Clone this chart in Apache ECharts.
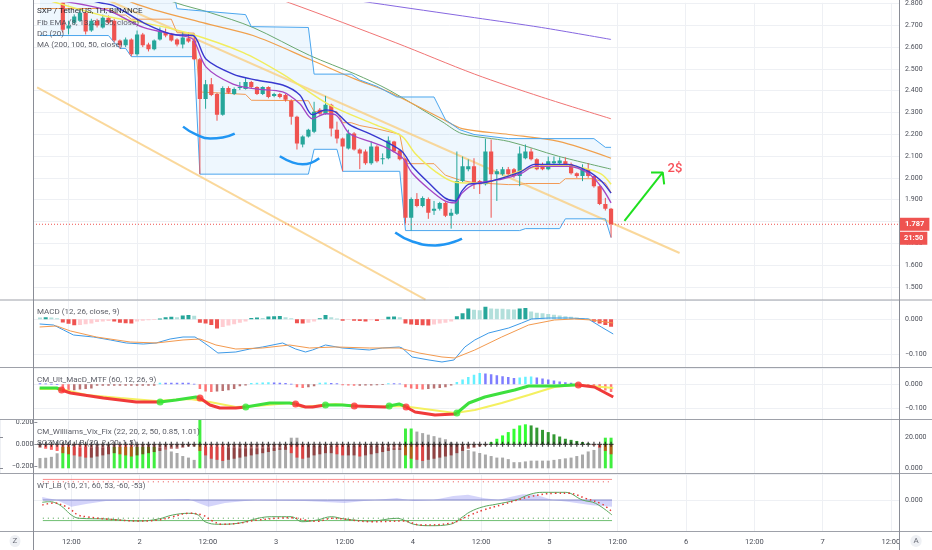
<!DOCTYPE html>
<html><head><meta charset="utf-8">
<script src="https://cdn.jsdelivr.net/npm/echarts@6/dist/echarts.min.js"></script>
<style>html,body{margin:0;padding:0;background:#fff}#c{width:932px;height:550px}#err{position:absolute;left:40px;top:60px;width:840px;font:11px monospace;color:#c00;white-space:pre-wrap;z-index:9}</style>
</head><body><div id="c"></div><div id="err"></div>
<script>
// ---------------- DATA ----------------
const firstHour = 7; // first candle: day 1, 07:00 (hour 0 = day 1 00:00), hourly candles
const opens = [2.88,2.86,2.87,2.85,2.84, 2.685,2.712,2.721,2.758,2.676, 2.721,2.690,2.735,2.721,2.630,
 2.608,2.635,2.567,2.658,2.612, 2.590,2.635,2.667,2.658,2.635, 2.612,2.640,2.630,2.544,2.362,
 2.430,2.385,2.290,2.412,2.385, 2.412,2.408,2.440,2.417,2.385, 2.417,2.376,2.385,2.380,2.353,
 2.280,2.153,2.190,2.212,2.312, 2.294,2.335,2.221,2.180,2.135, 2.203,2.130,2.121,2.067,2.144,
 2.085,2.090,2.167,2.126,2.085, 1.817,1.903,1.871,1.903,1.849, 1.858,1.885,1.826,1.835,1.985,
 2.040,2.053,1.985,1.971,2.121, 2.017,2.017,2.040,2.040,2.008, 2.090,2.121,2.085,2.062,2.040,
 2.067,2.067,2.076,2.062,2.021, 2.008,2.040,2.008,1.962,1.880, 1.858];
const closes = [2.86,2.87,2.85,2.84,2.680, 2.699,2.740,2.758,2.671,2.721, 2.699,2.735,2.712,2.630,2.608,
 2.635,2.567,2.658,2.608,2.590, 2.630,2.671,2.653,2.630,2.612, 2.644,2.626,2.544,2.362,2.430,
 2.380,2.290,2.412,2.390,2.408, 2.417,2.440,2.417,2.385,2.417, 2.371,2.385,2.371,2.358,2.280,
 2.158,2.190,2.221,2.303,2.294, 2.335,2.226,2.180,2.144,2.203, 2.130,2.112,2.067,2.144,2.076,
 2.090,2.171,2.121,2.085,1.817, 1.903,1.871,1.908,1.840,1.858, 1.885,1.826,1.840,1.985,2.053,
 2.053,1.976,1.971,2.121,2.017, 2.030,2.040,2.017,2.008,2.112, 2.121,2.085,2.040,2.040,2.076,
 2.076,2.080,2.053,2.021,2.008, 2.040,2.008,1.962,1.880,1.858, 1.787];
const lows = [2.84,2.83,2.82,2.81,2.667, 2.658,2.703,2.715,2.658,2.670, 2.690,2.685,2.705,2.621,2.594,
 2.600,2.558,2.560,2.600,2.580, 2.585,2.630,2.645,2.625,2.603, 2.594,2.620,2.540,2.017,2.317,
 2.375,2.262,2.285,2.385,2.380, 2.403,2.405,2.410,2.380,2.380, 2.365,2.370,2.365,2.350,2.244,
 2.130,2.140,2.185,2.205,2.290, 2.290,2.190,2.158,2.030,2.130, 2.125,2.040,2.060,2.060,2.070,
 2.062,2.085,2.115,2.080,1.790, 1.758,1.865,1.865,1.812,1.830, 1.850,1.820,1.767,1.830,1.980,
 2.030,1.949,1.926,1.965,1.817, 1.894,2.010,2.010,2.000,1.962, 2.085,2.080,2.035,2.035,2.035,
 2.060,2.060,2.050,2.015,2.000, 1.985,2.000,1.955,1.875,1.850, 1.726];
const highs = [2.90,2.89,2.89,2.87,2.86, 2.721,2.750,2.776,2.765,2.730, 2.730,2.749,2.745,2.730,2.635,
 2.644,2.640,2.676,2.665,2.620, 2.635,2.690,2.685,2.665,2.640, 2.667,2.667,2.644,2.550,2.449,
 2.458,2.390,2.420,2.420,2.415, 2.440,2.458,2.445,2.420,2.420, 2.420,2.390,2.390,2.385,2.360,
 2.285,2.195,2.225,2.349,2.320, 2.376,2.340,2.258,2.185,2.221, 2.210,2.135,2.130,2.167,2.150,
 2.112,2.190,2.170,2.130,2.090, 1.910,1.930,1.915,1.910,1.894, 1.890,1.890,1.858,2.121,2.098,
 2.085,2.090,1.990,2.180,2.176, 2.040,2.050,2.050,2.045,2.144, 2.153,2.135,2.090,2.070,2.098,
 2.098,2.094,2.094,2.070,2.025, 2.062,2.067,2.010,1.965,1.908, 1.862];
const lastPrice = 1.787;
const barCountdown = '21:50';

// main-panel indicator lines: [hour, price]
const ma200 = [[7,3.039],[44.3,2.885],[65.2,2.803],[83.1,2.735],[94.8,2.690],[107,2.635]];
const ma100 = [[7,3.21],[50.7,2.803],[69.2,2.621],[83.1,2.476],[94.8,2.371],[107,2.271]];
const ma50 = [[7,3.03],[30.8,2.803],[36.8,2.758],[44.3,2.690],[54.2,2.562],[62.2,2.476],[68.1,2.403],[77.4,2.258],[80.9,2.203],[89.1,2.167],[97.8,2.099],[107,2.040]];
const emaOrange = [[7,3.008],[23.3,2.803],[35.5,2.712],[44.3,2.653],[54.2,2.544],[62.2,2.453],[68.1,2.394],[77.4,2.271],[80.9,2.226],[89.1,2.199],[97.8,2.167],[107,2.09]];
const emaYellow = [[7,2.826],[18.1,2.744],[25.1,2.712],[32.6,2.667],[42.5,2.576],[49.5,2.476],[57.7,2.335],[65.7,2.244],[70.4,2.190],[72.7,2.112],[76.2,2.030],[79.7,1.980],[84.4,1.976],[87.9,1.999],[92.6,2.044],[97.1,2.058],[102.3,2.044],[105.3,2.017],[107,1.971]];
const emaBlue = [[6.9,2.871],[17.6,2.803],[19.9,2.790],[25.1,2.712],[30.3,2.658],[33.8,2.653],[36.1,2.544],[40.8,2.476],[44.8,2.449],[49.5,2.426],[52.5,2.380],[54.7,2.290],[57,2.312],[58.7,2.303],[61.2,2.244],[64.7,2.203],[67.5,2.167],[70.4,2.121],[72.2,2.053],[75.1,1.976],[77.9,1.908],[79.7,1.894],[80.9,1.940],[82.1,1.971],[84.4,1.976],[87.9,1.999],[91.3,2.030],[93.6,2.062],[99.5,2.062],[103,2.030],[105.3,1.985],[107,1.930]];
const emaPurple = [[6.9,2.826],[18.6,2.771],[25.1,2.690],[31.5,2.653],[33.8,2.635],[36.1,2.508],[40.8,2.430],[44.8,2.408],[49.5,2.394],[52.5,2.340],[54.7,2.271],[57,2.294],[58.7,2.290],[61.2,2.203],[64.7,2.167],[67.5,2.140],[70.4,2.094],[72.2,2.021],[75.1,1.949],[77.9,1.894],[79.7,1.885],[80.9,1.930],[83.1,1.971],[87.9,1.994],[91.3,2.021],[93.6,2.053],[99.5,2.053],[103,2.021],[105.3,1.958],[107,1.885]];
const dcUpper = [[7,2.90],[30,2.90],[31,2.776],[33,2.771],[43,2.749],[44,2.694],[54,2.690],[55,2.476],[61.5,2.476],[63,2.449],[66,2.42],[69.5,2.371],[76,2.371],[78,2.267],[80.5,2.221],[83,2.199],[89,2.180],[104,2.180],[106,2.140],[107,2.140]];
const dcLower = [[7,2.653],[19,2.653],[20,2.621],[21,2.594],[22,2.594],[23,2.556],[34,2.556],[35,2.017],[54,2.017],[55,2.131],[59,2.131],[60,2.030],[70,2.030],[71,1.758],[91,1.758],[92,1.767],[98,1.767],[99,1.812],[106,1.812],[107,1.726]];
const dcBasis = [[7,2.777],[19,2.777],[20,2.761],[21,2.747],[22,2.747],[23,2.728],[30,2.728],[31,2.666],[34,2.664],[35,2.394],[43,2.383],[44,2.356],[54,2.354],[55,2.304],[59,2.304],[60,2.253],[61.5,2.253],[63,2.240],[66,2.225],[70,2.20],[71,2.065],[76,2.065],[78,2.012],[80.5,1.99],[83,1.978],[89,1.969],[91,1.969],[92,1.974],[98,1.974],[99,1.996],[104,1.996],[106,1.976],[107,1.933]];
// drawings
const channelUpper = [[6.5,2.959],[119,1.655]];
const channelLower = [[6.5,2.415],[74.5,1.441]];
const arc1 = [[32.05,2.235],[34.3,2.199],[36.8,2.180],[39.0,2.185],[41.1,2.203]];
const arc2 = [[49.0,2.099],[51.2,2.071],[53.0,2.062],[55.9,2.090]];
const arc3 = [[69.2,1.749],[72.2,1.708],[76.2,1.690],[80.9,1.721]];
const arrowShaft = [[109.35,1.803],[116.05,2.025]];
const arrowHead = [[114.0,2.025],[116.05,2.025],[116.3,1.970]];
const targetNote = {hour:116.1, price:2.042, text:'2$'};

// MACD (12, 26, close, 9)
const macdHist = [0.005,0.006,0.005,0.003,-0.0095, -0.013,-0.017,-0.016,-0.014,-0.012, -0.008,-0.006,-0.005,-0.006,-0.010,
 -0.011,-0.012,-0.006,-0.004,-0.003, -0.001,0.002,0.006,0.007,0.006, 0.011,0.012,0.010,-0.010,-0.012,
 -0.016,-0.026,-0.022,-0.018,-0.014, -0.010,-0.006,0.004,0.005,0.004, 0.008,0.009,0.0095,0.006,0.003,
 -0.011,-0.012,-0.010,-0.006,0.003, 0.012,0.006,0.002,-0.004,-0.002, -0.004,-0.005,-0.006,-0.003,-0.005,
 -0.002,0.007,0.008,0.006,-0.012, -0.015,-0.016,-0.017,-0.018,-0.015, -0.012,-0.010,-0.006,0.009,0.017,
 0.031,0.027,0.026,0.036,0.031, 0.030,0.030,0.029,0.028,0.031, 0.032,0.022,0.019,0.017,0.015,
 0.013,0.011,0.009,0.007,0.005, 0.004,0.002,-0.007,-0.012,-0.016, -0.021];
const macdLine = [[6.94,-0.0134],[9.38,-0.0163],[11.13,-0.0306],[12.87,-0.0449],[16.36,-0.0506],[19.32,-0.0591],[22.11,-0.0677],[25.08,-0.0706],[27.34,-0.0677],[29.79,-0.0563],[32.05,-0.0506],[34.14,-0.0506],[35.02,-0.0591],[36.76,-0.0791],[38.16,-0.0963],[41.29,-0.0934],[43.73,-0.0849],[46.0,-0.0791],[49.49,-0.0677],[51.76,-0.0849],[53.5,-0.0934],[54.72,-0.0877],[56.99,-0.0734],[59.95,-0.082],[64.66,-0.0877],[66.93,-0.082],[69.89,-0.0791],[70.41,-0.082],[72.16,-0.1077],[75.12,-0.1163],[77.39,-0.122],[79.48,-0.1163],[81.4,-0.0791],[83.14,-0.0591],[85.58,-0.0391],[89.07,-0.0249],[91.34,-0.0106],[93.08,0.0009],[96.05,0.0037],[99.53,0.0037],[103.02,0.0009],[105.29,-0.022],[107.38,-0.042]];
const macdSignal = [[6.94,-0.022],[9.91,-0.0191],[12.35,-0.0334],[16.88,-0.0506],[22.81,-0.0649],[27.34,-0.0677],[32.05,-0.0591],[35.02,-0.0563],[37.81,-0.0734],[41.29,-0.0849],[46.0,-0.082],[50.71,-0.0734],[54.2,-0.082],[58.73,-0.0791],[64.66,-0.082],[69.89,-0.082],[73.38,-0.0963],[77.39,-0.1077],[79.66,-0.1106],[83.14,-0.0877],[87.85,-0.0506],[92.56,-0.0163],[97.09,-0.002],[100.58,0.0009],[103.54,-0.002],[107.38,-0.0106]];

// CM_Ult_MacD_MTF (60, 12, 26, 9)
const cmHist = [0.004,0.003,0.002,0.001,-0.02, -0.025,-0.025,-0.022,-0.02,-0.018, -0.006,-0.006,-0.006,-0.006,-0.006,
 -0.006,-0.006,-0.006,-0.006,-0.006, -0.006,0.006,0.006,0.006,0.006, 0.006,0.006,0.002,-0.02,-0.03,
 -0.032,-0.03,-0.028,-0.025,-0.02, -0.008,-0.005,0.005,0.006,0.007, 0.008,0.007,0.006,0.005,0.002,
 -0.012,-0.015,-0.012,-0.008,0.006, 0.007,0.005,0.004,-0.004,-0.005, -0.006,-0.006,-0.005,-0.005,-0.004,
 -0.003,0.004,0.004,0.003,-0.012, -0.018,-0.02,-0.022,-0.02,-0.018, -0.015,-0.012,-0.005,0.01,0.02,
 0.03,0.04,0.047,0.045,0.042, 0.038,0.034,0.03,0.026,0.028, 0.031,0.032,0.028,0.024,0.02,
 0.016,0.012,0.009,0.006,0.003, -0.006,-0.01,-0.015,-0.02,-0.026, -0.032];
const cmMacd = [[6.94,-0.0154],[9.91,-0.0154],[10.78,-0.0238],[12.35,-0.0363],[18.1,-0.0571],[23.86,-0.0738],[27.34,-0.0738],[28.04,-0.0738],[30.83,-0.0654],[34.32,-0.0529],[35.02,-0.0571],[36.76,-0.0863],[38.5,-0.0988],[41.29,-0.0988],[43.04,-0.0946],[47.22,-0.0779],[50.71,-0.0779],[51.76,-0.0821],[53.5,-0.0946],[54.72,-0.0946],[56.99,-0.0863],[59.95,-0.0863],[62.04,-0.0904],[67.45,-0.0946],[68.15,-0.0904],[69.89,-0.0821],[71.11,-0.0946],[72.68,-0.1154],[76.17,-0.1279],[79.66,-0.1238],[80.0,-0.1196],[82.1,-0.0779],[84.89,-0.0529],[87.85,-0.0363],[90.12,-0.0238],[92.56,-0.0071],[97.09,-0.0071],[100.58,-0.0029],[101.28,-0.0029],[104.07,-0.0113],[107.38,-0.0529]];
const cmSignal = [[6.94,-0.0196],[10.6,-0.0196],[15.14,-0.0446],[21.07,-0.0571],[27.34,-0.0696],[29.79,-0.0654],[33.27,-0.0613],[36.76,-0.0738],[41.29,-0.0946],[44.78,-0.0904],[50.71,-0.0779],[52.98,-0.0946],[58.73,-0.0821],[64.66,-0.0946],[70.41,-0.0904],[79.66,-0.1196],[83.14,-0.1071],[87.85,-0.0779],[92.56,-0.0446],[97.09,-0.0113],[100.58,-0.0029],[103.54,-0.0071],[107.38,-0.0154]];
const cmCrossHours = [10.78,28.04,35.02,43.04,51.76,56.99,62.04,68.15,71.11,80.0,101.28];
const cmCrossValues = [-0.0238,-0.0738,-0.0571,-0.0946,-0.0821,-0.0863,-0.0904,-0.0904,-0.0946,-0.1196,-0.0029];
const cmCrossUp = [0,1,0,1,0,1,0,1,0,1,0];

// CM_Williams_Vix_Fix (right scale) and SQZMOM_LB (left scale)
const vixFix = [6.7,6.9,7.5,9.8,14, 14,14,13.5,14,13.5, 14,13.5,14,14,14, 14,14,14,14,14, 14,13.3,12,11,10,
 8,7,5.5,33,14, 14,14,14,13.5,13.5, 13,13,13,13,13, 13.5,13.5,13,14,20, 20,15,15,14.5,14.5,
 14,14.5,14.5,15,14.5, 14.5,15,14.5,14.5,14.5, 14,13.5,13,13,26, 26,24,23,22,21, 20,19,17,16,14,
 12,11,10,9,8, 7,7,6,4,4, 4.5,5,5,5,5, 5.5,6,6.5,7,8, 9,11,12,15,20, 20];
const vixLimeHours = [11,12,20,21,22,23,24,25,26,27,35,71,72,106,107];
const sqzMom = [-0.03,-0.04,-0.05,-0.06,-0.08, -0.09,-0.10,-0.11,-0.12,-0.12, -0.11,-0.10,-0.09,-0.08,-0.09,
 -0.10,-0.11,-0.10,-0.09,-0.08, -0.07,-0.06,-0.05,-0.04,-0.04, -0.03,-0.02,-0.02,-0.06,-0.10,
 -0.13,-0.14,-0.15,-0.14,-0.13, -0.12,-0.11,-0.10,-0.09,-0.08, -0.07,-0.06,-0.05,-0.05,-0.08,
 -0.12,-0.13,-0.12,-0.10,-0.09, -0.08,-0.08,-0.09,-0.10,-0.10, -0.10,-0.11,-0.10,-0.09,-0.08,
 -0.07,-0.06,-0.05,-0.05,-0.10, -0.13,-0.14,-0.15,-0.14,-0.13, -0.12,-0.11,-0.10,-0.08,-0.06,
 -0.04,-0.03,-0.02,-0.01,0.02, 0.05,0.08,0.11,0.14,0.17, 0.18,0.17,0.15,0.13,0.11,
 0.09,0.07,0.05,0.04,0.03, 0.02,0.01,-0.01,-0.03,-0.06, -0.09];

// WT_LB (10, 21, 60, 53, -60, -53)
const wt1 = [[6.9,-6.7],[8.2,-5],[9.4,-9.6],[10.6,-22.4],[12,-43.7],[13.4,-53.3],[18.1,-55.4],[23.9,-61.2],[27.3,-55.4],[29.8,-43.7],[32.6,-38.8],[34.3,-43.7],[35.5,-63.3],[37.8,-70.8],[41.3,-67.9],[44.8,-53.3],[47.2,-48.7],[50.7,-48.7],[52.5,-63.3],[55.2,-58.3],[57.7,-48.7],[60,-55.4],[64.7,-61.2],[69.2,-53.3],[70.4,-58.3],[72.2,-70.8],[75.1,-74.9],[78.6,-70.8],[80.4,-53.3],[82.1,-34.1],[84.4,-19.5],[86.6,-12.5],[90.1,0],[92.6,16.6],[94.8,22.4],[98.8,22.4],[101.8,0],[104.1,-9.6],[107,-43.7]];
const wt2 = [[6.9,-14.6],[8.9,-8.7],[11.1,-19.5],[12,-29.2],[13.2,-43.7],[14.6,-48.7],[18.1,-55.4],[23.9,-61.2],[27.3,-58.3],[29.8,-48.7],[32.6,-38.8],[35,-43.7],[36.8,-61.2],[38.5,-70.8],[41.3,-67.9],[44.8,-58.3],[50.7,-51.6],[53,-58.3],[55.2,-62.1],[57.7,-53.3],[64.7,-63.3],[70.4,-61.2],[73.4,-72.9],[78.6,-67.9],[82.1,-43.7],[84.4,-29.2],[87.9,-12.5],[92.6,9.6],[97.1,19.5],[99.5,19.5],[102.3,5],[105.3,-12.5],[107,-34.1]];
const wtDiff = [[6.9,8.7],[9.4,0],[12,-20],[14.6,-12],[18.1,-3],[26.8,0],[32.6,3],[34.3,-9],[36.1,-20],[39,-9],[44.3,0],[53,-3],[56.5,-6],[60,-9],[63.4,-3],[69.2,6],[72.2,-3],[75.6,0],[79.1,12],[81.7,15],[84.4,6],[87,0],[89.1,9],[91.3,17],[93.6,15],[96.6,0],[99.5,-6],[103.5,-15],[107,-20]];
const wtLevels = [60, 53, -60, -53];

// ---------------- CHART ----------------
try {
const hours = opens.map((_, i) => firstHour + i);
const lastHour = hours[hours.length - 1];
const FONT = 'Roboto, sans-serif';
const AX = '#4a4d57';
// time axis: hour 0 (day 1 00:00) .. right edge; 12-hour label interval, min is a multiple of it
const X0 = 0, X1 = 157.42, XI = 12;
const PX_PER_H = 5.735;
const gridLeft = 65 - 12 * PX_PER_H;          // where hour 0 falls (left of the visible frame)
const frameLeft = 33.5;
const grids = [
  {left:gridLeft, right:33, top:0, height:300},
  {left:gridLeft, right:33, top:300.5, height:66.5},
  {left:gridLeft, right:33, top:368, height:51.5},
  {left:gridLeft, right:33, top:420, height:53},
  {left:gridLeft, right:33, top:474, height:57.5}
];
const timeFmt = v => (Math.abs(v % 12) > 1e-6 || v === 0) ? '' : (v % 24 === 0 ? String(v / 24 + 1) : '12:00');
const numFmt = v => (v < -1e-9 ? '\u2212' : '') + Math.abs(v).toFixed(3);

const xAxes = grids.map((g, i) => ({
  gridIndex:i, type:'value', min:X0, max:X1, interval:XI,
  axisLine:{show:false}, axisTick:{show:false},
  splitLine:{show:true, lineStyle:{color:'#eef0f4', width:1}},
  axisLabel:{show:i === 4, formatter:timeFmt, color:AX, fontSize:7.5, fontFamily:FONT, margin:7, showMaxLabel:false}
}));
function yAx(grid, min, max, split, pos, showSplit, extra) {
  return Object.assign({
    gridIndex:grid, type:'value', position:pos, min, max, splitNumber:split,
    axisLine:{show:false},
    axisTick:{show:true, length:3, lineStyle:{color:'#8a8d96'}},
    axisLabel:{formatter:numFmt, color:AX, fontSize:7, fontFamily:FONT, margin:pos === 'left' ? 4 : 6,
      showMinLabel:false, showMaxLabel:false},
    splitLine:{show:showSplit, lineStyle:{color:'#eef0f4', width:1}}
  }, extra || {});
}
const yAxes = [
  yAx(0, 1.4395, 2.8032, 13, 'right', true),
  yAx(1, -0.1363, 0.0537, 2, 'right', true),
  yAx(2, -0.1467, 0.0679, 2, 'right', true),
  yAx(3, -3.07, 31.57, 2, 'right', false),
  yAx(3, -0.2586, 0.2189, 2, 'left', false, {offset: gridLeft - frameLeft}),
  yAx(4, -91.8, 75.8, 2, 'right', true)
];

const series = [];
function ln(data, color, width, grid, yIdx, extra) {
  const s = Object.assign({type:'line', data, xAxisIndex:grid, yAxisIndex:yIdx, showSymbol:false, symbol:'none',
    lineStyle:{color, width}, itemStyle:{color}, silent:true, z:2}, extra || {});
  series.push(s);
  return series.length - 1;
}
// column marks drawn through the axes' scales
function columns(grid, yIdx, values, colors, width, z) {
  series.push({type:'custom', xAxisIndex:grid, yAxisIndex:yIdx, silent:true, z:z || 2, clip:true,
    data:hours.map((h, i) => [h, values[i]]), encode:{x:0, y:1},
    renderItem:(params, api) => {
      const x = api.value(0), v = api.value(1);
      const p0 = api.coord([x, 0]), p1 = api.coord([x, v]);
      return {type:'rect', shape:{x:p0[0] - width / 2, y:Math.min(p0[1], p1[1]), width, height:Math.max(0.8, Math.abs(p1[1] - p0[1]))},
        style:{fill:colors[params.dataIndex]}};
    }});
}
// Donchian fill
series.push({
  type:'custom', xAxisIndex:0, yAxisIndex:0, silent:true, z:1,
  data:[[dcUpper[0][0], dcUpper[0][1]]],
  renderItem:(params, api) => {
    const pts = dcUpper.map(p => api.coord(p)).concat(dcLower.slice().reverse().map(p => api.coord(p)));
    return {type:'polygon', shape:{points:pts}, style:{fill:'rgba(33,150,243,0.075)'}};
  }
});
ln(channelUpper, 'rgba(249,206,130,0.8)', 2, 0, 0);
ln(channelLower, 'rgba(249,206,130,0.8)', 2, 0, 0);
ln(ma200, '#8667e0', 1, 0, 0, {smooth:0.3});
ln(ma100, '#f07474', 1, 0, 0, {smooth:0.3});
ln(ma50, '#6aa86f', 1, 0, 0, {smooth:0.3});
ln(emaOrange, '#f0a04c', 1.2, 0, 0, {smooth:0.3});
ln(dcUpper, '#4ba6ee', 1, 0, 0);
ln(dcLower, '#4ba6ee', 1, 0, 0);
ln(dcBasis, '#f29a55', 1, 0, 0);
// candles
const UP = '#26a69a', DOWN = '#ef5350';
series.push({
  type:'custom', xAxisIndex:0, yAxisIndex:0, silent:true, z:3, clip:true,
  data:hours.map((h, i) => [h, opens[i], closes[i], lows[i], highs[i]]),
  encode:{x:0, y:[1,2,3,4]},
  renderItem:(params, api) => {
    const x = api.value(0), o = api.value(1), c = api.value(2), l = api.value(3), hi = api.value(4);
    const po = api.coord([x, o]), pc = api.coord([x, c]), pl = api.coord([x, l]), ph = api.coord([x, hi]);
    const col = c >= o ? UP : DOWN, w = 4.2;
    return {type:'group', children:[
      {type:'line', shape:{x1:po[0], y1:ph[1], x2:po[0], y2:pl[1]}, style:{stroke:col, lineWidth:1}},
      {type:'rect', shape:{x:po[0] - w / 2, y:Math.min(po[1], pc[1]), width:w, height:Math.max(1, Math.abs(po[1] - pc[1]))}, style:{fill:col}}
    ]};
  }
});
// last-price dotted line
ln([[X0, lastPrice], [X1, lastPrice]], '#ef5350', 1, 0, 0, {lineStyle:{color:'#ef5350', width:1, type:[1,2]}, z:3});
ln(emaYellow, '#f1ed5e', 1.5, 0, 0, {smooth:0.3, z:4});
ln(emaPurple, '#a446c4', 1.3, 0, 0, {smooth:0.3, z:4});
ln(emaBlue, '#3838cf', 1.4, 0, 0, {smooth:0.3, z:4});
[arc1, arc2, arc3].forEach(a => ln(a, '#2196f3', 2.5, 0, 0, {smooth:true, z:5}));
ln(arrowShaft, '#1fe01f', 2, 0, 0, {z:5});
ln(arrowHead, '#1fe01f', 2, 0, 0, {z:5});
series.push({type:'scatter', xAxisIndex:0, yAxisIndex:0, silent:true, z:5, symbolSize:1,
  itemStyle:{color:'rgba(0,0,0,0)'},
  data:[[targetNote.hour, targetNote.price]],
  label:{show:true, position:'right', distance:4, formatter:targetNote.text, color:'#f5222d', fontSize:13, fontWeight:500, fontFamily:FONT}});

// MACD panel
columns(1, 1, macdHist, macdHist.map((v, i) => {
  const p = i ? macdHist[i - 1] : v;
  return v >= 0 ? (v > p ? '#26a69a' : '#b2dfdb') : (v > p ? '#ffcdd2' : '#ef5350');
}), 4);
ln(macdLine, '#3d9ae8', 1, 1, 1);
ln(macdSignal, '#f39a4f', 1, 1, 1);

// CM_Ult_MacD panel
columns(2, 2, cmHist, cmHist.map((v, i) => {
  const p = i ? cmHist[i - 1] : v;
  return v >= 0 ? (v > p ? 'rgba(0,230,255,0.6)' : 'rgba(40,40,255,0.6)') : (v < p ? 'rgba(255,30,30,0.6)' : 'rgba(128,0,0,0.55)');
}), 2.5);
ln(cmSignal, '#f4f060', 2, 2, 2);
// MACD line split into green / red runs at the cross points
const GREEN = '#3ee03e', RED = '#f03a3a';
function cmColorAt(h) {
  let up = cmCrossUp[0] ? 0 : 1;
  cmCrossHours.forEach((ch, i) => { if (h >= ch) up = cmCrossUp[i]; });
  return up;
}
[1, 0].forEach(up => {
  const d = cmMacd.map((p, i) => {
    const isCross = cmCrossHours.indexOf(p[0]) >= 0;
    const prv = cmMacd[i - 1];
    const keep = cmColorAt(p[0]) === up || (isCross && prv && cmColorAt(prv[0]) === up);
    return keep ? p : [p[0], null];
  });
  ln(d, up ? GREEN : RED, 3, 2, 2, {z:3, connectNulls:false});
});
series.push({type:'scatter', xAxisIndex:2, yAxisIndex:2, silent:true, z:4, symbolSize:7,
  data:cmCrossHours.map((h, i) => ({value:[h, cmCrossValues[i]], itemStyle:{color:cmCrossUp[i] ? '#33e833' : '#ff3333'}}))});

// Vix Fix + SQZMOM panel
columns(3, 3, vixFix, hours.map(h => vixLimeHours.indexOf(h) >= 0 ? 'rgba(30,235,30,0.85)' : 'rgba(140,140,140,0.75)'), 3);
columns(3, 4, sqzMom, sqzMom.map((v, i) => {
  const p = i ? sqzMom[i - 1] : v;
  return v > 0 ? (v > p ? 'rgba(0,255,0,0.8)' : 'rgba(0,128,0,0.8)') : (v < p ? 'rgba(255,0,0,0.6)' : 'rgba(128,0,0,0.6)');
}), 3, 3);
series.push({type:'scatter', xAxisIndex:3, yAxisIndex:4, silent:true, z:4, symbolSize:5,
  symbol:'path://M3,0H5V3H8V5H5V8H3V5H0V3H3Z', itemStyle:{color:'#1c1c1c'},
  data:hours.map(h => [h, 0])});

// WT panel
ln(wtDiff, 'rgba(120,120,240,0)', 0, 4, 5, {areaStyle:{color:'rgba(120,120,240,0.45)'}});
ln([[firstHour, 0], [lastHour, 0]], '#8388c8', 1, 4, 5);
ln([[firstHour, wtLevels[0]], [lastHour, wtLevels[0]]], 'rgba(245,90,90,0.7)', 1, 4, 5);
ln([[firstHour, wtLevels[1]], [lastHour, wtLevels[1]]], '#e84a4a', 1, 4, 5, {lineStyle:{color:'#e84a4a', width:1, type:[1,4]}});
ln([[firstHour, wtLevels[2]], [lastHour, wtLevels[2]]], 'rgba(76,175,80,0.8)', 1, 4, 5);
ln([[firstHour, wtLevels[3]], [lastHour, wtLevels[3]]], '#3f9f43', 1, 4, 5, {lineStyle:{color:'#3f9f43', width:1, type:[1,4]}});
ln(wt1, '#5aa85e', 1, 4, 5, {smooth:0.4});
ln(wt2, '#e53935', 1.5, 4, 5, {smooth:0.4, lineStyle:{color:'#e53935', width:1.5, type:[1.5,3]}});

const chart = echarts.init(document.getElementById('c'));
chart.setOption({
  animation:false,
  backgroundColor:'#ffffff',
  grid:grids,
  xAxis:xAxes,
  yAxis:yAxes,
  series
});

// decorations: panel frame, legends, price label boxes
const legends = [
  ['SXP / TetherUS, 1H, BINANCE', 11, '#131722'],
  ['Fib EMA (8, 13, 21, 55, close)', 23, '#4a4d57'],
  ['DC (20)', 34, '#4a4d57'],
  ['MA (200, 100, 50, close)', 45, '#4a4d57'],
  ['MACD (12, 26, close, 9)', 312, '#4a4d57'],
  ['CM_Ult_MacD_MTF (60, 12, 26, 9)', 380, '#4a4d57'],
  ['CM_Williams_Vix_Fix (22, 20, 2, 50, 0.85, 1.01)', 432, '#4a4d57'],
  ['SQZMOM_LB (20, 2, 20, 1.5)', 443, '#4a4d57'],
  ['WT_LB (10, 21, 60, 53, -60, -53)', 486, '#4a4d57']
];
const gfx = [];
// blank margin left of the frame (the plot area starts at day 1 00:00 off to the left)
gfx.push({type:'rect', id:'mask0', silent:true, z:45, shape:{x:0, y:0, width:frameLeft, height:419.5}, style:{fill:'#fff'}});
gfx.push({type:'rect', id:'mask1', silent:true, z:45, shape:{x:0, y:473.5, width:frameLeft, height:58}, style:{fill:'#fff'}});
[300, 367.5, 419.5, 473.5, 531.5].forEach((y, i) => gfx.push({type:'line', id:'sep' + i, silent:true, z:50,
  shape:{x1:0, y1:y, x2:932, y2:y}, style:{stroke:'#9ea1a9', lineWidth:1}}));
[frameLeft, 899.5].forEach((x, i) => gfx.push({type:'line', id:'vb' + i, silent:true, z:50,
  shape:{x1:x, y1:0, x2:x, y2:550}, style:{stroke:'#8a8d96', lineWidth:1}}));
legends.forEach((l, i) => gfx.push({type:'text', id:'lg' + i, silent:true, z:60, x:37, y:l[1],
  style:{text:l[0], fill:l[2], font:'8px ' + FONT, verticalAlign:'middle', opacity:0.9}}));
const py = chart.convertToPixel({xAxisIndex:0, yAxisIndex:0}, [X0, lastPrice])[1];
gfx.push({type:'text', id:'pbox', silent:true, z:70, x:900, y:py,
  style:{text:lastPrice.toFixed(3), fill:'#fff', backgroundColor:'#ef5350', padding:[2,5,2,5], lineHeight:9,
    font:'bold 7.5px ' + FONT, verticalAlign:'middle'}});
gfx.push({type:'text', id:'tbox', silent:true, z:70, x:900, y:py + 14,
  style:{text:barCountdown, fill:'#fff', backgroundColor:'#ef5350', padding:[2,4,2,4], lineHeight:9,
    font:'bold 7.5px ' + FONT, verticalAlign:'middle'}});
[['Z', 15], ['A', 916]].forEach((t, i) => gfx.push({type:'text', id:'btn' + i, silent:true, z:60, x:t[1], y:541,
  style:{text:t[0], fill:'#6a6d78', font:'8px ' + FONT, align:'center', verticalAlign:'middle',
    backgroundColor:'#eef0f4', borderRadius:6, padding:[2,3,2,3]}}));
chart.setOption({graphic:gfx});
} catch (e) {
  document.getElementById('err').textContent = String(e && e.stack || e);
}
</script></body></html>
